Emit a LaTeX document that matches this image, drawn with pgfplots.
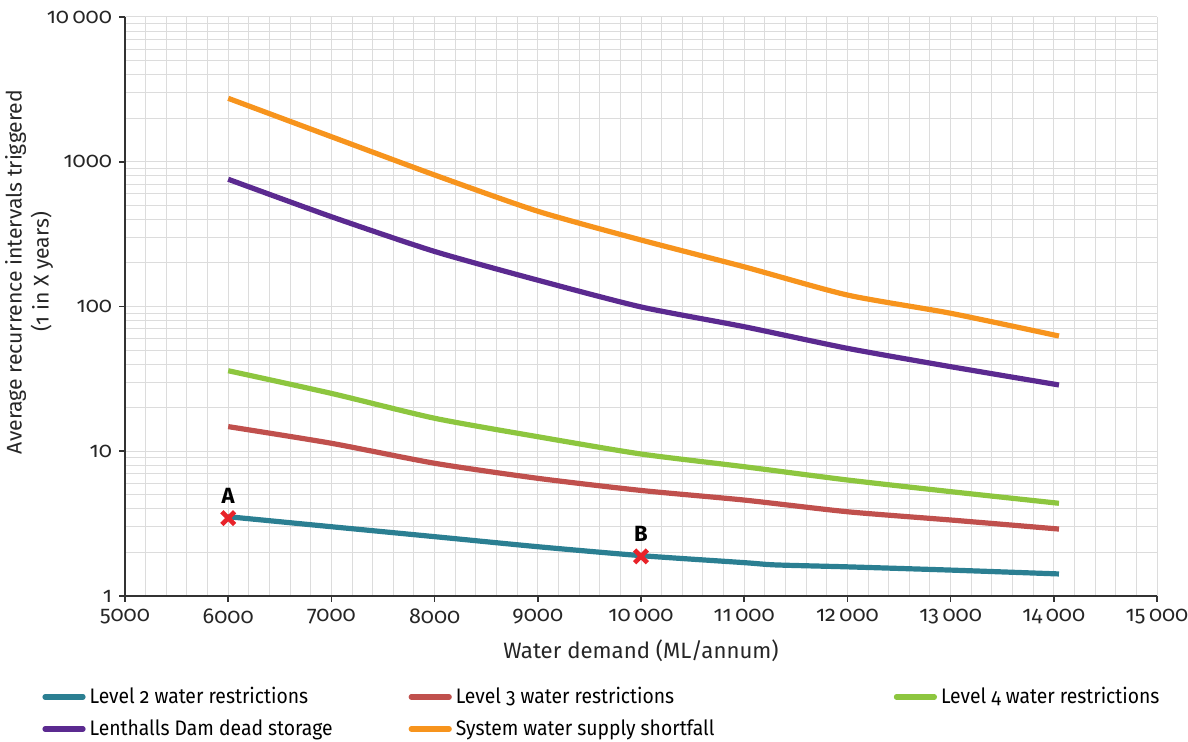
\documentclass[border=0pt]{standalone}
\usepackage{fontspec}
\setmainfont{Fira Sans}[Numbers=OldStyle]
\newfontfamily\legfont{Fira Sans}[Numbers=OldStyle, FakeStretch=0.92]
\usepackage{pgfplots}
\usepackage{pgfplotstable}
\pgfplotsset{compat=1.18}

\definecolor{ctealL}{HTML}{2B7F92}
\definecolor{credL}{HTML}{C0504D}
\definecolor{cgreenL}{HTML}{8DC63F}
\definecolor{cpurpL}{HTML}{5B2A90}
\definecolor{corangeL}{HTML}{F7941D}
\definecolor{cmark}{HTML}{E8232A}
\definecolor{cgrid}{HTML}{DCDCDC}

\pgfplotstableread{
x y
6000 3.53
7000 3.01
8000 2.57
9000 2.19
10000 1.90
11000 1.70
11300 1.64
12000 1.59
13000 1.51
14050 1.42
}\levtwo
\pgfplotstableread{
x y
6000 14.8
7000 11.35
8000 8.26
9000 6.50
10000 5.36
11000 4.60
12000 3.82
13000 3.35
14050 2.90
}\levthree
\pgfplotstableread{
x y
6000 36.0
7000 25.1
8000 16.9
9000 12.6
10000 9.57
11000 7.82
12000 6.33
13000 5.26
14050 4.37
}\levfour
\pgfplotstableread{
x y
6000 757
7000 417
8000 240
9000 152
10000 99.3
11000 72.5
12000 51.4
13000 38.4
14050 28.7
}\dead
\pgfplotstableread{
x y
6000 2743
7000 1489
8000 810
9000 455
10000 288
11000 188
12000 120
13000 89.8
14050 62.5
}\shortfall

\begin{document}
\begin{tikzpicture}
\begin{axis}[
  name=ax,
  scale only axis,
  width=516pt, height=289.5pt,
  xmin=5000, xmax=15000,
  ymode=log, ymin=1, ymax=10000,
  scaled x ticks=false,
  axis x line*=bottom, axis y line*=left,
  axis line style={-, draw=black!80, line width=0.8pt},
  xtick={5000,6000,...,15000},
  xticklabels={5000,6000,7000,8000,9000,10\,000,11\,000,12\,000,13\,000,14\,000,15\,000},
  ytick={1,10,100,1000,10000},
  yticklabels={1,10,100,1000,10\,000},
  minor x tick num=4,
  grid=both,
  major grid style={cgrid, line width=0.5pt},
  minor grid style={cgrid, line width=0.5pt},
  tick align=outside,
  major tick length=3pt,
  minor tick length=0pt,
  tick style={draw=black!80, line width=0.8pt},
  ticklabel style={font=\fontsize{10.8}{12}\selectfont, text=black!85},
  xlabel={Water demand (ML/annum)},
  ylabel={Average recurrence intervals triggered\\(1 in X years)},
  every axis x label/.style={at={(axis description cs:0.5,-0.095)}, anchor=center,
    font=\fontsize{11.1}{13}\selectfont, text=black!85},
  every axis y label/.style={at={(axis description cs:-0.093,0.5596)}, rotate=90, anchor=center, align=center,
    font=\fontsize{10.6}{13.5}\selectfont, text=black!85},
  legend columns=3,
  legend cell align=left,
  legend style={draw=none, fill=none, font=\legfont\fontsize{10.5}{12}\selectfont,
    at={(axis description cs:-0.0804,-0.150)}, anchor=north west,
    /tikz/every even column/.append style={column sep=0pt},
    row sep=2.5pt, inner sep=0pt},
  legend image code/.code={\draw[#1, line cap=round] (0pt,0pt) -- (19pt,0pt);},
  clip=false,
]
\addplot[ctealL, line width=2.6pt, smooth, tension=0.4] table[x=x,y=y]{\levtwo};
\addlegendentry{\makebox[157.5pt][l]{Level 2 water restrictions}}
\addplot[credL, line width=2.6pt, smooth, tension=0.4] table[x=x,y=y]{\levthree};
\addlegendentry{\makebox[217pt][l]{Level 3 water restrictions}}
\addplot[cgreenL, line width=2.6pt, smooth, tension=0.4] table[x=x,y=y]{\levfour};
\addlegendentry{Level 4 water restrictions}
\addplot[cpurpL, line width=2.6pt, smooth, tension=0.4] table[x=x,y=y]{\dead};
\addlegendentry{Lenthalls Dam dead storage}
\addplot[corangeL, line width=2.6pt, smooth, tension=0.4] table[x=x,y=y]{\shortfall};
\addlegendentry{System water supply shortfall}
\addplot[only marks, mark=x, mark size=4.5pt, cmark, line width=2.3pt,
  point meta=explicit symbolic, nodes near coords,
  every node near coord/.append style={text=black, font=\fontsize{11}{12}\selectfont\bfseries, yshift=3pt},
  forget plot]
  coordinates {(6000,3.45)[A] (10000,1.88)[B]};
\end{axis}
\pgfresetboundingbox
\path (ax.south west) ++(-62.5pt,-73pt) rectangle (ax.north east);
\path (ax.north east) ++(15.5pt,8.5pt);
\end{tikzpicture}
\end{document}
